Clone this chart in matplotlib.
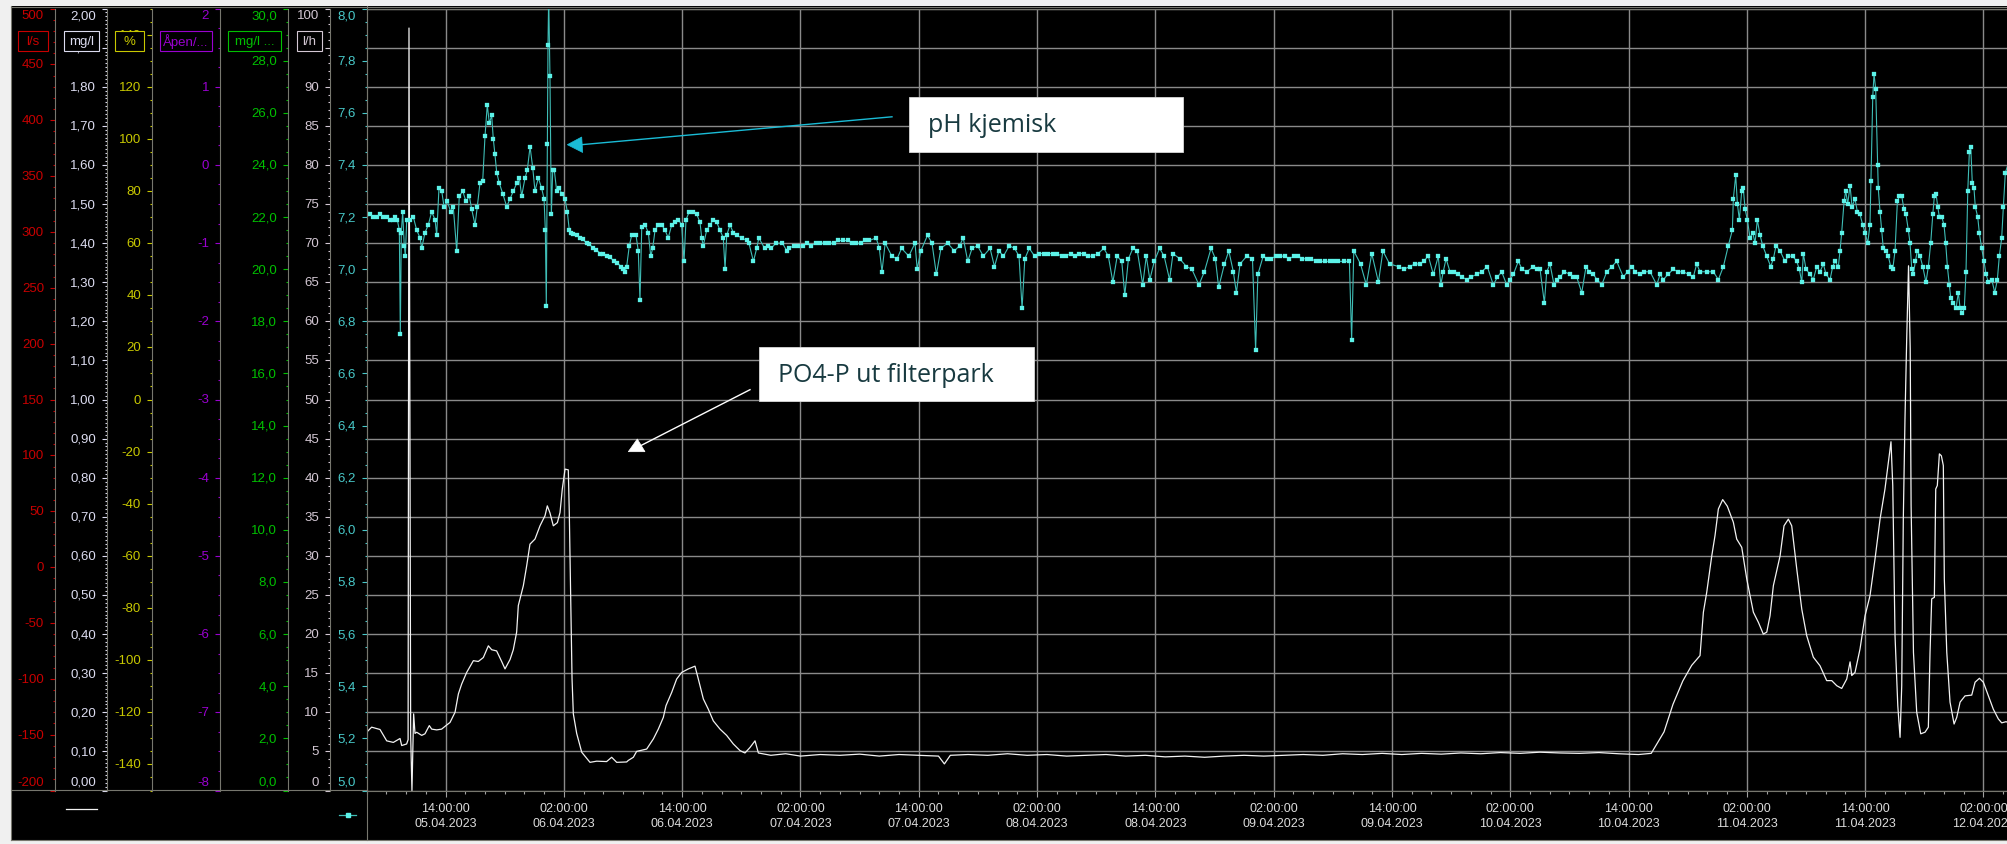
import numpy as np
import pandas as pd
import matplotlib
matplotlib.use("Agg")
import matplotlib.pyplot as plt
import matplotlib.dates as mdates
from matplotlib.ticker import MultipleLocator
from matplotlib.lines import Line2D
from matplotlib.patches import Rectangle, Polygon

# ---------------------------------------------------------------- data
START = pd.Timestamp("2023-04-05 06:00")
VIEW_HOURS = 167.2

# PO4-P out of the filter park, mg/l (hours after START)
po4_hours = [
    0.00, 0.50, 1.35, 2.03, 2.70, 3.38, 3.55, 4.05, 4.20, 4.29, 4.46, 4.59, 4.76, 4.90,
    5.07, 5.58, 5.91, 6.35, 6.59, 7.10, 7.60, 8.04, 8.45, 8.96, 9.30, 9.63, 10.14, 10.82,
    11.32, 11.83, 12.34, 12.68, 13.18, 13.69, 14.03, 14.54, 14.87, 15.21, 15.38, 15.89,
    16.23, 16.56, 17.07, 17.58, 18.09, 18.32, 18.59, 18.93, 19.34, 19.61, 19.84, 20.12,
    20.45, 20.55, 20.69, 20.83, 20.96, 21.30, 21.81, 22.65, 23.33, 24.34, 24.85, 25.36,
    26.37, 26.54, 27.05, 27.38, 28.40, 29.08, 29.58, 30.09, 30.36, 30.94, 31.44, 31.95,
    32.63, 33.30, 33.64, 34.15, 34.65, 35.16, 35.84, 36.51, 37.19, 37.87, 38.37, 38.88,
    39.39, 39.73, 41.0, 42.5, 44.0, 46.0, 48.0, 50.0, 52.0, 54.0, 56.0, 58.0, 58.6, 59.2,
    61.0, 63.0, 65.0, 67.0, 69.0, 71.0, 73.0, 75.0, 77.0, 79.0, 81.0, 83.0, 85.0, 87.0,
    89.0, 91.0, 93.0, 95.0, 97.0, 99.0, 101.0, 103.0, 105.0, 107.0, 109.0, 111.0, 113.0,
    115.0, 117.0, 119.0, 121.0, 123.0, 125.0, 127.0, 129.0, 130.3, 131.6, 132.5, 133.5,
    134.4, 135.25, 135.59, 135.93, 136.44, 136.77, 137.11, 137.55, 138.02, 138.63, 138.97,
    139.48, 139.99, 140.66, 141.17, 141.67, 142.02, 142.35, 142.69, 143.37, 143.77, 144.21,
    144.55, 145.06, 145.57, 146.07, 146.74, 147.42, 148.10, 148.61, 149.12, 149.62, 150.13,
    150.47, 150.64, 150.97, 151.48, 151.99, 152.49, 153.00, 153.51, 154.01, 154.35, 154.62,
    154.80, 155.03, 155.31, 155.54, 155.71, 155.87, 156.04, 156.21, 156.40, 156.57, 156.66,
    156.90, 157.23, 157.64, 158.07, 158.41, 158.58, 158.75, 159.02, 159.16, 159.32, 159.53,
    159.73, 159.93, 160.03, 160.28, 160.61, 161.02, 161.29, 161.63, 162.13, 162.81, 163.15,
    163.59, 163.99, 164.50, 165.00, 165.51, 165.85, 166.29, 166.90,
]
po4_mgl = [
    0.149, 0.162, 0.156, 0.127, 0.123, 0.133, 0.115, 0.119, 0.130, 1.950, 0.140, 0.000, 0.196, 0.146,
    0.149, 0.141, 0.145, 0.166, 0.157, 0.155, 0.157, 0.166, 0.174, 0.200, 0.247, 0.272, 0.302, 0.332,
    0.330, 0.340, 0.370, 0.360, 0.357, 0.330, 0.311, 0.335, 0.360, 0.405, 0.473, 0.524,
    0.575, 0.630, 0.643, 0.677, 0.703, 0.728, 0.710, 0.677, 0.685, 0.711, 0.771, 0.822,
    0.820, 0.711, 0.498, 0.285, 0.196, 0.146, 0.098, 0.072, 0.075, 0.074, 0.085, 0.072,
    0.073, 0.077, 0.085, 0.100, 0.106, 0.132, 0.157, 0.187, 0.217, 0.251, 0.285, 0.302,
    0.311, 0.318, 0.285, 0.234, 0.208, 0.178, 0.157, 0.141, 0.119, 0.102, 0.096, 0.110,
    0.127, 0.096, 0.090, 0.094, 0.088, 0.092, 0.090, 0.093, 0.088, 0.092, 0.090, 0.088, 0.068, 0.090,
    0.092, 0.090, 0.094, 0.090, 0.092, 0.088, 0.090, 0.092, 0.088, 0.090, 0.086, 0.088, 0.085, 0.088,
    0.090, 0.088, 0.090, 0.092, 0.090, 0.094, 0.092, 0.095, 0.092, 0.095, 0.093, 0.096, 0.094,
    0.097, 0.095, 0.098, 0.096, 0.095, 0.097, 0.094, 0.092, 0.095, 0.150, 0.220, 0.280,
    0.320, 0.345, 0.456, 0.507, 0.600, 0.652, 0.720, 0.744, 0.727, 0.686, 0.643,
    0.622, 0.541, 0.456, 0.430, 0.400, 0.405, 0.447, 0.524, 0.600, 0.677, 0.694,
    0.677, 0.567, 0.464, 0.396, 0.341, 0.319, 0.281, 0.281, 0.268, 0.261, 0.285,
    0.329, 0.294, 0.302, 0.362, 0.447, 0.498, 0.592, 0.694, 0.771, 0.839, 0.892,
    0.780, 0.396, 0.217, 0.136, 0.268, 0.694, 0.950, 1.150, 1.342, 1.130, 0.730,
    0.353, 0.200, 0.145, 0.149, 0.162, 0.353, 0.490, 0.494, 0.771, 0.780, 0.861,
    0.856, 0.831, 0.541, 0.353, 0.226, 0.170, 0.187, 0.226, 0.242, 0.244, 0.277,
    0.287, 0.277, 0.242, 0.208, 0.183, 0.173, 0.176, 0.170,
]

# pH, chemical stage (hours after START): excursions and peaks
ph_hours = [
    0.00, 0.67, 1.35, 2.03, 2.70, 3.10, 3.31, 3.41, 3.51, 3.65, 3.81, 3.92, 4.06, 4.39,
    4.73, 5.07, 5.41, 5.58, 5.91, 6.25, 6.59, 6.93, 7.10, 7.33, 7.61, 7.84, 8.18, 8.52,
    8.78, 9.13, 9.39, 9.74, 10.07, 10.41, 10.65, 10.99, 11.22, 11.49, 11.77, 12.00, 12.23,
    12.44, 12.68, 12.84, 13.01, 13.19, 13.45, 13.80, 14.20, 14.54, 14.87, 15.22, 15.48,
    15.72, 16.06, 16.29, 16.57, 16.84, 17.07, 17.41, 17.75, 17.99, 18.12, 18.22, 18.32,
    18.39, 18.46, 18.59, 18.73, 18.87, 19.03, 19.27, 19.54, 19.78, 20.12, 20.35, 20.55,
    20.69, 20.96, 21.60, 22.30, 23.00, 23.70, 24.40, 25.10, 25.80, 26.20, 26.37, 26.64,
    26.88, 27.32, 27.55, 27.72, 27.90, 28.23, 28.57, 28.81, 29.01, 29.25, 29.58, 29.92,
    30.26, 30.59, 30.94, 31.27, 31.61, 31.95, 32.19, 32.39, 32.72, 33.13, 33.48, 33.81,
    33.98, 34.14, 34.49, 34.82, 35.16, 35.50, 35.84, 36.17, 36.35, 36.52, 36.85, 37.19,
    37.53, 38.04, 38.55, 38.77, 39.23, 39.56, 39.78, 40.36, 41.04, 42.17, 42.62, 42.84,
    44.21, 45.57, 46.93, 48.29, 49.65, 51.00, 51.68, 52.00, 52.27, 52.59, 53.27, 53.80,
    54.26, 54.99, 55.62, 55.84, 56.21, 56.89, 57.34, 57.79, 58.25, 58.93, 59.61, 60.14,
    60.51, 60.97, 61.41, 61.96, 62.55, 63.23, 63.68, 64.13, 64.59, 65.18, 65.72, 66.17,
    66.48, 66.76, 67.21, 67.75, 68.66, 69.57, 70.93, 72.29, 73.65, 74.77, 75.23, 75.69,
    76.13, 76.59, 76.90, 77.27, 77.72, 78.17, 78.72, 79.08, 79.44, 79.89, 80.43, 80.89,
    81.44, 81.79, 82.47, 83.15, 83.70, 84.42, 84.97, 85.65, 86.09, 86.42, 87.01, 87.45,
    87.91, 88.22, 88.59, 89.27, 89.85, 90.17, 90.40, 90.94, 91.76, 92.67, 94.03, 95.39,
    96.74, 98.57, 99.68, 99.91, 100.13, 100.81, 101.40, 101.95, 102.63, 103.08, 103.76,
    104.67, 105.83, 106.85, 107.69, 108.20, 108.70, 108.95, 109.49, 109.89, 110.73,
    111.58, 112.60, 113.67, 114.28, 115.13, 115.64, 116.31, 116.82, 117.67, 118.34,
    119.02, 119.46, 119.70, 120.03, 120.44, 121.05, 122.06, 122.74, 123.25, 123.69,
    124.43, 125.28, 125.79, 126.80, 127.47, 128.32, 129.17, 130.18, 130.86, 131.53,
    132.54, 133.56, 134.57, 134.91, 135.25, 135.93, 136.60, 137.11, 137.62, 138.12,
    138.53, 138.63, 138.87, 139.04, 139.24, 139.48, 139.64, 139.82, 140.05, 140.32,
    140.60, 140.83, 141.06, 141.34, 141.61, 142.02, 142.42, 142.69, 142.96, 143.37,
    143.87, 144.21, 144.65, 145.06, 145.32, 145.57, 145.73, 146.00, 146.41, 146.74,
    147.09, 147.42, 147.76, 148.03, 148.44, 148.71, 148.94, 149.28, 149.45, 149.62,
    149.86, 150.03, 150.23, 150.47, 150.67, 150.97, 151.21, 151.48, 151.75, 151.99,
    152.26, 152.49, 152.59, 152.77, 152.90, 153.07, 153.27, 153.33, 153.51, 153.68,
    153.84, 154.12, 154.35, 154.59, 154.80, 155.03, 155.27, 155.47, 155.71, 155.94,
    156.14, 156.38, 156.55, 156.73, 156.89, 157.09, 157.29, 157.57, 157.84, 158.17,
    158.41, 158.65, 158.86, 159.02, 159.19, 159.36, 159.53, 159.77, 160.00, 160.17,
    160.34, 160.54, 160.68, 160.95, 161.22, 161.45, 161.63, 161.86, 162.06, 162.23,
    162.41, 162.57, 162.71, 162.87, 163.04, 163.17, 163.42, 163.58, 163.82, 164.06,
    164.26, 164.50, 164.84, 165.15, 165.41, 165.61, 165.85, 166.02, 166.22, 166.90,
]
ph_values = [
    7.21, 7.20, 7.21, 7.20, 7.19, 7.19, 7.15, 6.75, 7.14, 7.22, 7.09, 7.05, 7.19, 7.19,
    7.20, 7.15, 7.12, 7.08, 7.14, 7.17, 7.22, 7.19, 7.13, 7.31, 7.30, 7.24, 7.26, 7.22,
    7.24, 7.07, 7.28, 7.30, 7.26, 7.28, 7.23, 7.17, 7.24, 7.33, 7.34, 7.51, 7.63,
    7.56, 7.59, 7.50, 7.44, 7.37, 7.33, 7.29, 7.24, 7.27, 7.30, 7.33, 7.35,
    7.28, 7.35, 7.38, 7.47, 7.39, 7.30, 7.35, 7.31, 7.27, 7.15, 6.86, 7.48,
    7.86, 8.05, 7.74, 7.21, 7.38, 7.38, 7.30, 7.31, 7.29, 7.27, 7.22, 7.15,
    7.14, 7.135, 7.12, 7.10, 7.08, 7.06, 7.05, 7.03, 7.01, 6.99, 7.01, 7.09,
    7.13, 7.13, 7.07, 6.88, 7.16, 7.17, 7.14, 7.05, 7.08, 7.15, 7.17, 7.17,
    7.15, 7.12, 7.17, 7.18, 7.19, 7.17, 7.03, 7.19, 7.22, 7.22, 7.21, 7.18,
    7.12, 7.09, 7.15, 7.17, 7.19, 7.18, 7.15, 7.12, 7.00, 7.13, 7.17, 7.14,
    7.13, 7.12, 7.11, 7.10, 7.03, 7.08, 7.12, 7.08, 7.08, 7.10, 7.07, 7.08,
    7.09, 7.10, 7.10, 7.11, 7.10, 7.11, 7.12, 7.08, 6.99, 7.10, 7.05, 7.04,
    7.08, 7.05, 7.10, 7.00, 7.07, 7.13, 7.10, 6.98, 7.08, 7.10, 7.07, 7.09,
    7.12, 7.03, 7.08, 7.09, 7.05, 7.08, 7.01, 7.07, 7.05, 7.09, 7.08, 7.05,
    6.85, 7.04, 7.08, 7.05, 7.06, 7.06, 7.05, 7.06, 7.05, 7.08, 7.05, 6.95,
    7.05, 7.03, 6.90, 7.04, 7.08, 7.07, 6.94, 7.05, 6.96, 7.03, 7.08, 7.05,
    6.96, 7.06, 7.04, 7.01, 7.00, 6.94, 6.99, 7.08, 7.04, 6.93, 7.02, 7.07,
    6.99, 6.91, 7.02, 7.05, 7.04, 6.69, 6.98, 7.05, 7.04, 7.05, 7.05, 7.04,
    7.03, 7.03, 7.03, 6.73, 7.07, 7.02, 6.94, 7.06, 6.95, 7.07, 7.02,
    7.01, 7.01, 7.02, 7.05, 6.98, 7.05, 6.94, 7.04, 6.99, 6.98,
    6.96, 6.98, 7.01, 6.94, 6.99, 6.94, 6.98, 7.03, 6.99, 7.01,
    7.00, 6.87, 6.99, 7.02, 6.94, 6.97, 6.98, 6.97, 6.91, 7.01,
    6.98, 6.94, 6.99, 7.03, 6.97, 7.01, 6.98, 6.99, 6.94, 6.96,
    7.00, 6.99, 6.97, 7.02, 6.99, 6.99, 6.99, 6.96, 7.01, 7.09,
    7.15, 7.27, 7.36, 7.25, 7.19, 7.30, 7.31, 7.23, 7.19, 7.12,
    7.14, 7.10, 7.19, 7.13, 7.09, 7.05, 7.01, 7.04, 7.09, 7.07,
    7.03, 7.05, 7.05, 7.03, 7.00, 6.95, 7.06, 7.00, 6.98, 6.96,
    7.01, 6.99, 7.02, 6.98, 6.96, 7.01, 7.03, 7.01, 7.07, 7.14,
    7.26, 7.30, 7.25, 7.32, 7.24, 7.27, 7.22, 7.21, 7.17, 7.14,
    7.10, 7.17, 7.34, 7.66, 7.75, 7.69, 7.40, 7.31, 7.22, 7.15,
    7.08, 7.07, 7.05, 7.01, 7.00, 7.07, 7.26, 7.28, 7.28, 7.23,
    7.21, 7.15, 7.10, 7.00, 6.98, 7.03, 7.07, 7.05, 7.01, 6.95,
    7.01, 7.10, 7.21, 7.28, 7.29, 7.24, 7.20, 7.20, 7.17, 7.10,
    7.01, 6.94, 6.89, 6.87, 6.85, 6.91, 6.85, 6.83, 6.85, 6.99,
    7.30, 7.45, 7.47, 7.33, 7.31, 7.24, 7.20, 7.14, 7.08, 7.03,
    6.98, 6.95, 6.96, 6.91, 6.96, 7.05, 7.12, 7.24, 7.37, 7.45,
]

# pH readings inside the steady stretches
ph_band_hours = [
    0.33, 1.00, 1.70, 2.35, 2.90,
    21.30, 21.90, 22.60, 23.30, 24.00, 24.70, 25.40, 25.95,
    40.70, 41.50, 43.30, 43.80, 44.70, 45.10, 46.00, 46.50, 47.40, 47.80, 48.80, 49.20, 50.10, 50.50,
    68.20, 69.10, 70.00, 70.50, 71.40, 71.80, 72.80, 73.20, 74.20,
    91.30, 92.20, 93.10, 93.60, 94.50, 94.90, 95.80, 96.30, 97.20, 97.70, 98.10, 99.10,
    105.20, 106.30, 107.20, 109.20, 110.30, 111.10, 112.00, 113.10, 114.70, 116.00, 117.20,
    118.70, 120.70, 121.50, 122.40, 124.00, 124.80, 126.30, 127.90, 128.70, 129.60, 131.20,
    132.00, 133.00, 134.10,
]
ph_band_values = [
    7.21, 7.20, 7.20, 7.19, 7.20,
    7.13, 7.115, 7.095, 7.075, 7.06, 7.045, 7.025, 7.00,
    7.09, 7.10, 7.09, 7.09, 7.10, 7.09, 7.10, 7.10, 7.10, 7.11, 7.11, 7.10, 7.10, 7.11,
    7.06, 7.06, 7.06, 7.05, 7.06, 7.05, 7.06, 7.05, 7.06,
    7.04, 7.05, 7.05, 7.04, 7.05, 7.04, 7.04, 7.03, 7.03, 7.03, 7.03, 7.03,
    7.00, 7.02, 7.03, 6.99, 6.99, 6.97, 6.97, 6.99, 6.97, 6.96, 7.00,
    7.00, 6.96, 6.99, 6.97, 6.99, 6.96, 7.01, 6.99, 6.99, 6.99, 6.98,
    6.98, 6.99, 6.98,
]

# left-hand value scales: unit, colour, low, high, major step, minor step, decimals
scale_units = ["l/s", "mg/l", "%", "Åpen/...", "mg/l ...", "l/h"]
scale_colors = ["#C80000", "#DCDCF0", "#C8C800", "#9A00D0", "#00C000", "#D4C8D4"]
scale_lows = [-200, 0.0, -150, -8, 0.0, 0]
scale_highs = [500, 2.0, 150, 2, 30.0, 100]
scale_major = [50, 0.1, 20, 1, 2.0, 5]
scale_minor = [10, 0.01, 5, 0.25, 0.5, 1]
scale_decimals = [0, 2, 0, 0, 1, 0]

PH_RANGE = (5.0, 8.0)
PO4_RANGE = (0.0, 2.0)

# ---------------------------------------------------------------- layout (pixels)
W, H, DPI = 2007, 845, 100
PLOT_L, PLOT_R = 366.7, 2015.0
PLOT_T, PLOT_B = 9.5, 791.5
SPINE_X = [55, 107, 152, 220, 288, 330]
UNIT_BOX = [(18, 48), (64, 99), (115, 144), (160, 212), (228, 281), (297, 322)]
GRID = "#8a8a8a"
SPINE = "#77776e"
PH_LABEL = "#48C8C8"
PH_MARK = "#5CF2E8"
PH_LINE = "#3FBDB6"
PX = 72.0 / DPI  # points per pixel
TICK_FS = 9.5

plt.rcParams["font.family"] = ["Liberation Sans", "DejaVu Sans"]

fig = plt.figure(figsize=(W / DPI, H / DPI), dpi=DPI, facecolor="black")


def fx(x):
    return x / W


def fy(y):
    return 1.0 - y / H


plot_bottom = fy(PLOT_B)
plot_height = (PLOT_B - PLOT_T) / H

# window frame: light strips round the black chart area
for (x0, y0, x1, y1) in [(0, 0, W, 7), (0, 0, 10.5, H), (0, 840.5, W, H)]:
    fig.patches.append(Rectangle((fx(x0), fy(y1)), fx(x1 - x0), (y1 - y0) / H,
                                 transform=fig.transFigure, facecolor="#F0F0F0",
                                 edgecolor="none", zorder=0))
for seg in [((10.5, 10.5), (7, 840.5)), ((10.5, W), (7.5, 7.5)),
            ((10.5, PLOT_L), (790.5, 790.5)), ((PLOT_L, PLOT_L), (7, 840.5)),
            ((10.5, W), (840.5, 840.5))]:
    fig.add_artist(Line2D([fx(v) for v in seg[0]], [fy(v) for v in seg[1]],
                          transform=fig.transFigure, color=SPINE, lw=0.8))


def put_labels(axis, values, decimals, color, lo, hi):
    for v in values:
        txt = f"{v:.{decimals}f}".replace(".", ",")
        if txt.startswith("-") and float(txt.replace(",", ".")) == 0:
            txt = txt[1:]
        dy = 0.0
        if abs(v - hi) < 1e-9:
            dy = -6.5
        elif abs(v - lo) < 1e-9:
            dy = 8.5
        axis.annotate(txt, xy=(0, v), xycoords=("axes fraction", "data"),
                      xytext=(-11 * PX, dy * PX), textcoords="offset points",
                      ha="right", va="center", fontsize=TICK_FS, color=color,
                      annotation_clip=False)


# the six side scales
for i, unit in enumerate(scale_units):
    lo, hi = scale_lows[i], scale_highs[i]
    col = scale_colors[i]
    sa = fig.add_axes([fx(SPINE_X[i]), plot_bottom, 1e-5, plot_height])
    sa.set_ylim(lo, hi)
    sa.set_xticks([])
    sa.patch.set_visible(False)
    for s in ("top", "right", "bottom"):
        sa.spines[s].set_visible(False)
    sa.spines["left"].set_color(SPINE)
    sa.spines["left"].set_linewidth(0.8)
    sa.yaxis.set_major_locator(MultipleLocator(scale_major[i]))
    sa.yaxis.set_minor_locator(MultipleLocator(scale_minor[i]))
    sa.tick_params(axis="y", which="major", length=5 * PX, width=0.8, color=col,
                   labelleft=False, direction="out")
    sa.tick_params(axis="y", which="minor", length=2.5 * PX, width=0.8, color=col,
                   direction="out")
    step = scale_major[i]
    first = np.ceil(lo / step - 1e-9) * step
    vals = [round(v, 6) for v in np.arange(first, hi + step / 2, step)]
    put_labels(sa, vals, scale_decimals[i], col, lo, hi)
    bx0, bx1 = UNIT_BOX[i]
    fig.patches.append(Rectangle((fx(bx0), fy(51.7)), fx(bx1 - bx0), 20 / H,
                                 transform=fig.transFigure, facecolor="black",
                                 edgecolor=col, lw=0.8, zorder=5))
    fig.text(fx((bx0 + bx1) / 2), fy(41.7), unit, color=col, fontsize=TICK_FS,
             ha="center", va="center", zorder=6)

# ---------------------------------------------------------------- main plot
ax = fig.add_axes([fx(PLOT_L), plot_bottom, fx(PLOT_R - PLOT_L), plot_height])
ax.set_facecolor("black")
t_po4 = (START + pd.to_timedelta(po4_hours, unit="h")).to_numpy()

ph_h = np.concatenate([ph_hours, ph_band_hours])
ph_v = np.concatenate([ph_values, ph_band_values])
order = np.argsort(ph_h, kind="stable")
t_ph = (START + pd.to_timedelta(ph_h[order], unit="h")).to_numpy()
ph_v = ph_v[order]

ax.set_xlim(START.to_pydatetime(), (START + pd.Timedelta(hours=VIEW_HOURS)).to_pydatetime())
ax.set_ylim(*PO4_RANGE)
ax.yaxis.set_major_locator(MultipleLocator(0.1))
ax.tick_params(axis="y", left=False, right=False, labelleft=False)
ax.xaxis.set_major_locator(mdates.HourLocator(byhour=[2, 14]))
ax.xaxis.set_minor_locator(mdates.HourLocator(byhour=range(0, 24, 2)))
ax.xaxis.set_major_formatter(mdates.DateFormatter("%H:%M:%S\n%d.%m.%Y"))
ax.tick_params(axis="x", which="major", length=6 * PX, width=0.8, color="#a0a0a0",
               labelsize=9, labelcolor="#DCDCDC", pad=6 * PX)
ax.tick_params(axis="x", which="minor", length=3 * PX, width=0.8, color="#a0a0a0")
for lab in ax.get_xticklabels():
    lab.set_linespacing(1.25)
ax.grid(True, which="major", color=GRID, lw=1.0)
for s in ax.spines.values():
    s.set_color(SPINE)
    s.set_linewidth(0.8)

ax.plot(t_po4, po4_mgl, color="#F2F2F2", lw=0.9, zorder=3)

ax2 = ax.twinx()
ax2.set_ylim(*PH_RANGE)
ax2.yaxis.set_ticks_position("left")
ax2.yaxis.set_major_locator(MultipleLocator(0.2))
ax2.yaxis.set_minor_locator(MultipleLocator(0.05))
ax2.tick_params(axis="y", which="major", length=5 * PX, width=0.8, color=PH_LABEL,
                labelleft=False, labelright=False, direction="out")
ax2.tick_params(axis="y", which="minor", length=2.5 * PX, width=0.8, color=PH_LABEL,
                direction="out")
for s in ax2.spines.values():
    s.set_visible(False)
ph_ticks = [round(v, 2) for v in np.arange(5.0, 8.0001, 0.2)]
put_labels(ax2, ph_ticks, 1, PH_LABEL, *PH_RANGE)
ax2.plot(t_ph, ph_v, color=PH_LINE, lw=0.8, marker="s", markersize=2.8,
         markerfacecolor=PH_MARK, markeredgecolor=PH_MARK, markeredgewidth=0.2,
         zorder=4)

# legend swatches under the scales
fig.add_artist(Line2D([fx(66), fx(97)], [fy(810), fy(810)], transform=fig.transFigure,
                      color="#F2F2F2", lw=0.9))
fig.add_artist(Line2D([fx(339), fx(356)], [fy(815.7), fy(815.7)], transform=fig.transFigure,
                      color=PH_LINE, lw=0.9))
fig.add_artist(Line2D([fx(347.5)], [fy(815.7)], transform=fig.transFigure, marker="s",
                      markersize=2.6, color=PH_MARK, lw=0))

# ---------------------------------------------------------------- call-outs
def callout(x0, y0, x1, y1, text, tx, ty):
    fig.patches.append(Rectangle((fx(x0), fy(y1)), fx(x1 - x0), (y1 - y0) / H,
                                 transform=fig.transFigure, facecolor="white",
                                 edgecolor="#d8d8d8", lw=0.6, zorder=8))
    fig.text(fx(tx), fy(ty), text, family=["Open Sans", "DejaVu Sans"], fontsize=18,
             color="#183A40", ha="left", va="center", zorder=9)


def arrow(line, head, color):
    fig.add_artist(Line2D([fx(p[0]) for p in line], [fy(p[1]) for p in line],
                          transform=fig.transFigure, color=color, lw=1.0, zorder=8))
    fig.patches.append(Polygon([(fx(p[0]), fy(p[1])) for p in head], closed=True,
                               transform=fig.transFigure, facecolor=color,
                               edgecolor=color, lw=0.5, zorder=8))


callout(909, 98.3, 1183, 152.7, "pH kjemisk", 928, 125.5)
arrow([(892, 117.8), (578, 146)], [(567.3, 145.7), (581.7, 138.0), (582.7, 153.5)], "#1ABCD6")
callout(759.3, 348.3, 1034, 402.3, "PO4-P ut filterpark", 778.3, 375.5)
arrow([(750, 390.7), (640, 447)], [(628.3, 452.7), (645.0, 452.7), (637.3, 440.0)], "white")

fig.savefig("out.png", dpi=DPI, facecolor="black")
